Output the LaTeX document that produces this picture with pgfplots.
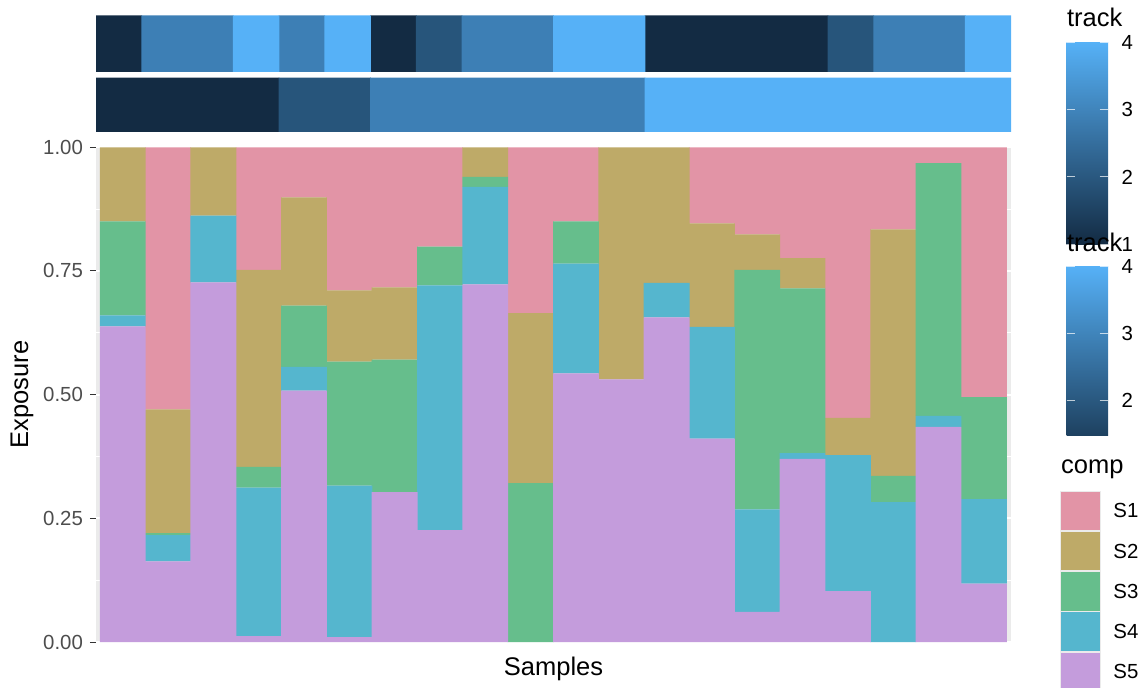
\documentclass[border=0pt]{standalone}
\usepackage{pgfplots}
\usepackage{pgfplotstable}
\pgfplotsset{compat=1.18}
\usepackage{fontspec}
\setmainfont{Liberation Sans}
\definecolor{cS1}{HTML}{E294A6}
\definecolor{cS2}{HTML}{BEAA68}
\definecolor{cS3}{HTML}{66BE8C}
\definecolor{cS4}{HTML}{55B6CE}
\definecolor{cS5}{HTML}{C49CDC}
\definecolor{tk1}{HTML}{132B43}
\definecolor{tk2}{HTML}{27557B}
\definecolor{tk3}{HTML}{3D7FB5}
\definecolor{tk4}{HTML}{56B1F7}
\definecolor{tkb}{HTML}{1E4160}
\definecolor{panelbg}{HTML}{EBEBEB}
\definecolor{keybg}{HTML}{F2F2F2}
\definecolor{ticklab}{HTML}{4D4D4D}
\definecolor{tickcol}{HTML}{333333}

\pgfplotstableread{
x S5 S4 S3 S2 S1
1 0.638 0.022 0.190 0.150 0.000
2 0.163 0.053 0.004 0.250 0.530
3 0.727 0.135 0.000 0.138 0.000
4 0.012 0.300 0.042 0.398 0.248
5 0.508 0.048 0.124 0.219 0.101
6 0.010 0.306 0.251 0.144 0.289
7 0.303 0.000 0.268 0.146 0.283
8 0.226 0.495 0.078 0.000 0.201
9 0.723 0.197 0.020 0.060 0.000
10 0.000 0.000 0.321 0.344 0.335
11 0.543 0.222 0.085 0.000 0.150
12 0.531 0.000 0.000 0.469 0.000
13 0.656 0.070 0.000 0.274 0.000
14 0.411 0.226 0.000 0.209 0.154
15 0.061 0.207 0.484 0.072 0.176
16 0.370 0.012 0.333 0.061 0.224
17 0.103 0.275 0.000 0.075 0.547
18 0.000 0.283 0.053 0.498 0.166
19 0.435 0.022 0.511 0.000 0.032
20 0.118 0.171 0.206 0.000 0.505
}\comptable

\begin{document}
\begin{tikzpicture}[x=1pt,y=1pt]
\useasboundingbox (0,0) rectangle (572,343.5);

% main stacked bar panel
\begin{axis}[
  at={(48pt,22pt)}, anchor=south west,
  scale only axis, width=457.5pt, height=248.5pt,
  xmin=0.41, xmax=20.6, ymin=-0.002, ymax=1.0026,
  ybar stacked, bar width=1.012,
  axis background/.style={fill=panelbg},
  axis line style={draw=none},
  xtick=\empty,
  ytick={0,0.25,0.5,0.75,1},
  minor ytick={0.125,0.375,0.625,0.875},
  ytick pos=left,
  ymajorgrids, yminorgrids,
  major grid style={white, line width=1pt},
  minor grid style={white, line width=0.5pt},
  tick align=outside,
  major tick length=3pt,
  minor tick length=0pt,
  ytick style={tickcol, line width=0.5pt},
  /pgf/number format/assume math mode=true,
  yticklabel style={font=\fontsize{10.2}{12}\selectfont, text=ticklab,
    /pgf/number format/.cd, fixed, fixed zerofill, precision=2},
  every axis y label/.style={at={(axis description cs:-0.0809,0.5)}, rotate=90, anchor=center, font=\fontsize{12.75}{15}\selectfont},
  every axis x label/.style={at={(axis description cs:0.5,-0.0523)}, anchor=center, font=\fontsize{12.75}{15}\selectfont},
  ylabel={Exposure}, xlabel={Samples},
]
\addplot[fill=cS5, draw=none] table[x=x, y=S5] {\comptable};
\addplot[fill=cS4, draw=none] table[x=x, y=S4] {\comptable};
\addplot[fill=cS3, draw=none] table[x=x, y=S3] {\comptable};
\addplot[fill=cS2, draw=none] table[x=x, y=S2] {\comptable};
\addplot[fill=cS1, draw=none] table[x=x, y=S1] {\comptable};
\end{axis}

% track row 1 (top)
\begin{axis}[
  at={(48pt,307.5pt)}, anchor=south west,
  scale only axis, width=457.5pt, height=28.25pt,
  xmin=0.5, xmax=20.5, ymin=0, ymax=1, hide axis]
\addplot[ybar, bar width=1.012, bar shift=0pt, fill=tk1, draw=none] coordinates {(1,1) (7,1) (13,1) (14,1) (15,1) (16,1)};
\addplot[ybar, bar width=1.012, bar shift=0pt, fill=tk2, draw=none] coordinates {(8,1) (17,1)};
\addplot[ybar, bar width=1.012, bar shift=0pt, fill=tk3, draw=none] coordinates {(2,1) (3,1) (5,1) (9,1) (10,1) (18,1) (19,1)};
\addplot[ybar, bar width=1.012, bar shift=0pt, fill=tk4, draw=none] coordinates {(4,1) (6,1) (11,1) (12,1) (20,1)};
\end{axis}

% track row 2
\begin{axis}[
  at={(48pt,277.5pt)}, anchor=south west,
  scale only axis, width=457.5pt, height=27.25pt,
  xmin=0.5, xmax=20.5, ymin=0, ymax=1, hide axis]
\addplot[ybar, bar width=1.012, bar shift=0pt, fill=tk1, draw=none] coordinates {(1,1) (2,1) (3,1) (4,1)};
\addplot[ybar, bar width=1.012, bar shift=0pt, fill=tk2, draw=none] coordinates {(5,1) (6,1)};
\addplot[ybar, bar width=1.012, bar shift=0pt, fill=tk3, draw=none] coordinates {(7,1) (8,1) (9,1) (10,1) (11,1) (12,1)};
\addplot[ybar, bar width=1.012, bar shift=0pt, fill=tk4, draw=none] coordinates {(13,1) (14,1) (15,1) (16,1) (17,1) (18,1) (19,1) (20,1)};
\end{axis}

% legends
\begin{scope}[font=\fontsize{10.2}{12}\selectfont]
% colorbar 1
\node[anchor=base west, inner sep=0, font=\fontsize{12.75}{15}\selectfont] at (533.35,330.15) {track};
\shade[bottom color=tk1, top color=tk4] (533.35,221.5) rectangle (554,322.35);
\foreach \yy in {322.35,288.65,255.05,221.4} {
  \draw[white, opacity=0.7, line width=0.5pt] (533.35,\yy) -- (537.5,\yy);
  \draw[white, opacity=0.7, line width=0.5pt] (549.85,\yy) -- (554,\yy);
}
\node[anchor=west, inner sep=0] at (560.65,322.35) {4};
\node[anchor=west, inner sep=0] at (560.65,288.65) {3};
\node[anchor=west, inner sep=0] at (560.65,255.05) {2};
% colorbar 2
\node[anchor=base west, inner sep=0, font=\fontsize{12.75}{15}\selectfont] at (533.35,217.65) {track};
\node[anchor=west, inner sep=0] at (560.65,221.4) {1};
\shade[bottom color=tkb, top color=tk4] (533.35,126) rectangle (554,210.5);
\foreach \yy in {210.5,176.85,143.2} {
  \draw[white, opacity=0.7, line width=0.5pt] (533.35,\yy) -- (537.5,\yy);
  \draw[white, opacity=0.7, line width=0.5pt] (549.85,\yy) -- (554,\yy);
}
\node[anchor=west, inner sep=0] at (560.65,210.5) {4};
\node[anchor=west, inner sep=0] at (560.65,176.85) {3};
\node[anchor=west, inner sep=0] at (560.65,143.2) {2};
% comp legend
\node[anchor=base west, inner sep=0, font=\fontsize{12.75}{15}\selectfont] at (530.35,106.85) {comp};
\fill[panelbg] (530.15,-3) rectangle (550.5,98.15);
\fill[cS1] (530.65,78.5) rectangle (550,97.65);
\fill[cS2] (530.65,58.375) rectangle (550,77.525);
\fill[cS3] (530.65,38.25) rectangle (550,57.4);
\fill[cS4] (530.65,18.125) rectangle (550,37.275);
\fill[cS5] (530.65,-2) rectangle (550,17.15);
\node[anchor=west, inner sep=0] at (556.5,88.075) {S1};
\node[anchor=west, inner sep=0] at (556.5,67.95) {S2};
\node[anchor=west, inner sep=0] at (556.5,47.825) {S3};
\node[anchor=west, inner sep=0] at (556.5,27.7) {S4};
\node[anchor=west, inner sep=0] at (556.5,7.575) {S5};
\end{scope}
\end{tikzpicture}
\end{document}
